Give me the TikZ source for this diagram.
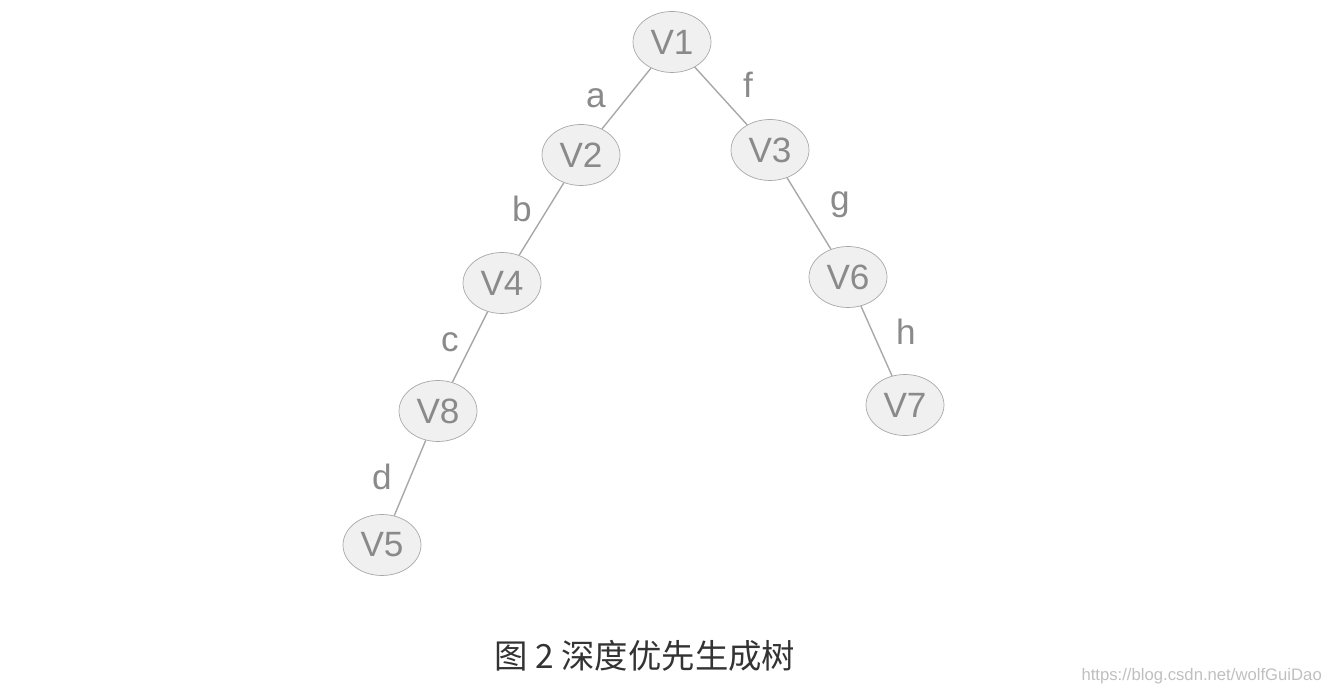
\documentclass[tikz,border=0pt]{standalone}
\usepackage{fontspec}
\setmainfont{Liberation Sans}
\newfontfamily\cjk{Noto Sans CJK SC}
\usetikzlibrary{shapes.geometric}
\definecolor{vfill}{HTML}{F0F0F0}
\definecolor{vline}{HTML}{A8A8A8}
\definecolor{vtext}{HTML}{8A8A8A}
\begin{document}
\begin{tikzpicture}[x=0.02cm,y=-0.02cm]
\tikzset{vert/.style={draw=vline, fill=vfill, ellipse, minimum width=1.56cm, minimum height=1.22cm, inner sep=0pt, text=vtext, font=\fontsize{20}{22}\selectfont},
 elab/.style={text=vtext, font=\fontsize{20}{22}\selectfont},
 edge/.style={draw=vline, line width=0.8pt}}
% bounding box
\useasboundingbox (0,0) rectangle (1336,692);

% vertices
\node[vert] (V1) at (672,42) {V1};
\node[vert] (V2) at (581,155) {V2};
\node[vert] (V3) at (770,150) {V3};
\node[vert] (V4) at (502,283) {V4};
\node[vert] (V6) at (848,277) {V6};
\node[vert] (V8) at (438,411) {V8};
\node[vert] (V7) at (905,405) {V7};
\node[vert] (V5) at (382,545) {V5};

% edges
\draw[edge] (V1) -- (V2);
\draw[edge] (V1) -- (V3);
\draw[edge] (V2) -- (V4);
\draw[edge] (V3) -- (V6);
\draw[edge] (V4) -- (V8);
\draw[edge] (V6) -- (V7);
\draw[edge] (V8) -- (V5);

% edge labels
\node[elab] (la) at (596,98) {a};
\node[elab] (lf) at (748,85) {f};
\node[elab] (lb) at (522,209) {b};
\node[elab] (lg) at (840,205) {g};
\node[elab] (lc) at (450,342) {c};
\node[elab] (lh) at (906,332) {h};
\node[elab] (ld) at (382,477) {d};

% caption
\node[font=\cjk\fontsize{19}{22}\selectfont, text=black!80] (cap) at (645,656) {图 2 深度优先生成树};
\node[font=\fontsize{9.5}{11}\selectfont, text=black!25, anchor=east] (wm) at (1328,676) {https://blog.csdn.net/wolfGuiDao};
\end{tikzpicture}
\end{document}
